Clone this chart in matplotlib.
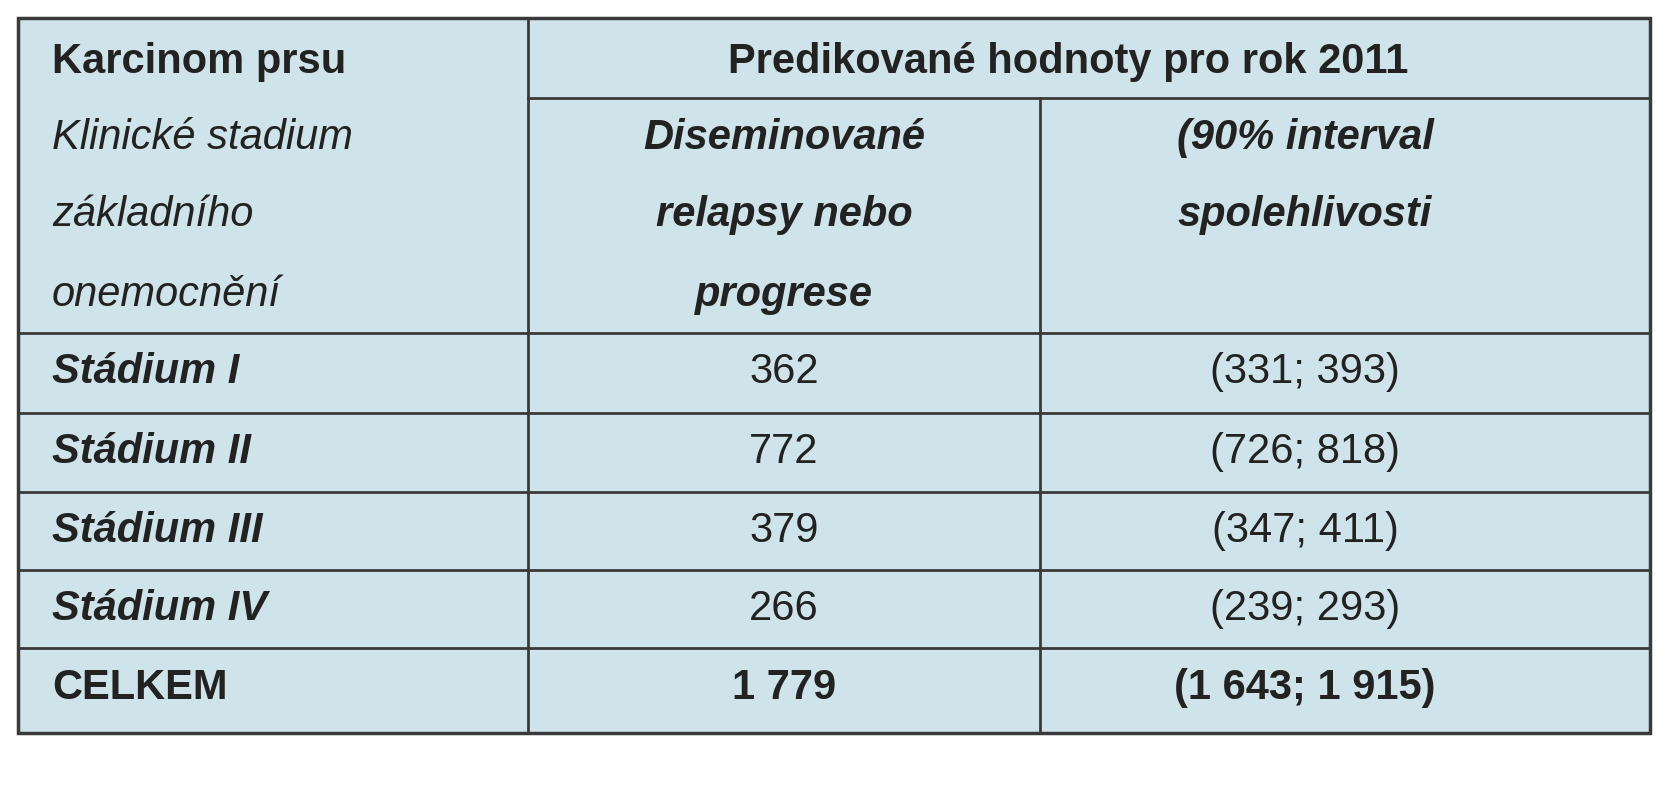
import matplotlib.pyplot as plt

stages = ["Stádium I", "Stádium II", "Stádium III", "Stádium IV"]
relapses = ["362", "772", "379", "266"]
intervals = ["(331; 393)", "(726; 818)", "(347; 411)", "(239; 293)"]
total_label = "CELKEM"
total_value = "1 779"
total_interval = "(1 643; 1 915)"

bg = "#cfe3ea"
line = "#3a3a3a"
ink = "#222222"
fam = ["Liberation Sans", "DejaVu Sans"]
fs = 30

fig = plt.figure(figsize=(16.69, 8), dpi=100)
ax = fig.add_axes([0, 0, 1, 1])
ax.set_xlim(0, 1669)
ax.set_ylim(800, 0)
ax.axis("off")

left, right, top, bottom = 18, 1650, 18, 733
c1, c2 = 528, 1040
ax.add_patch(plt.Rectangle((left, top), right - left, bottom - top,
                           facecolor=bg, edgecolor=line, lw=2.5))
ax.plot([c1, c1], [top, bottom], color=line, lw=2)
ax.plot([c2, c2], [98, bottom], color=line, lw=2)
ax.plot([c1, right], [98, 98], color=line, lw=2)
row_lines = [333, 413, 492, 570, 648]
for y in row_lines:
    ax.plot([left, right], [y, y], color=line, lw=2)

def t(x, y, s, ha="left", weight="normal", style="normal"):
    ax.text(x, y, s, ha=ha, va="center", fontsize=fs, color=ink,
            family=fam, weight=weight, style=style)

mid2 = 784
mid3 = 1305
t(52, 62, "Karcinom prsu", weight="bold")
t(1068, 62, "Predikované hodnoty pro rok 2011", ha="center", weight="bold")
for y, s in zip([138, 215, 295], ["Klinické stadium", "základního", "onemocnění"]):
    t(52, y, s, style="italic")
for y, s in zip([138, 215, 295], ["Diseminované", "relapsy nebo", "progrese"]):
    t(mid2, y, s, ha="center", weight="bold", style="italic")
for y, s in zip([138, 215], ["(90% interval", "spolehlivosti"]):
    t(mid3, y, s, ha="center", weight="bold", style="italic")

row_y = [372, 452, 531, 609]
for y, s, r, iv in zip(row_y, stages, relapses, intervals):
    t(52, y, s, weight="bold", style="italic")
    t(mid2, y, r, ha="center")
    t(mid3, y, iv, ha="center")
t(52, 688, total_label, weight="bold")
t(mid2, 688, total_value, ha="center", weight="bold")
t(mid3, 688, total_interval, ha="center", weight="bold")

fig.savefig("out.png", dpi=100)
